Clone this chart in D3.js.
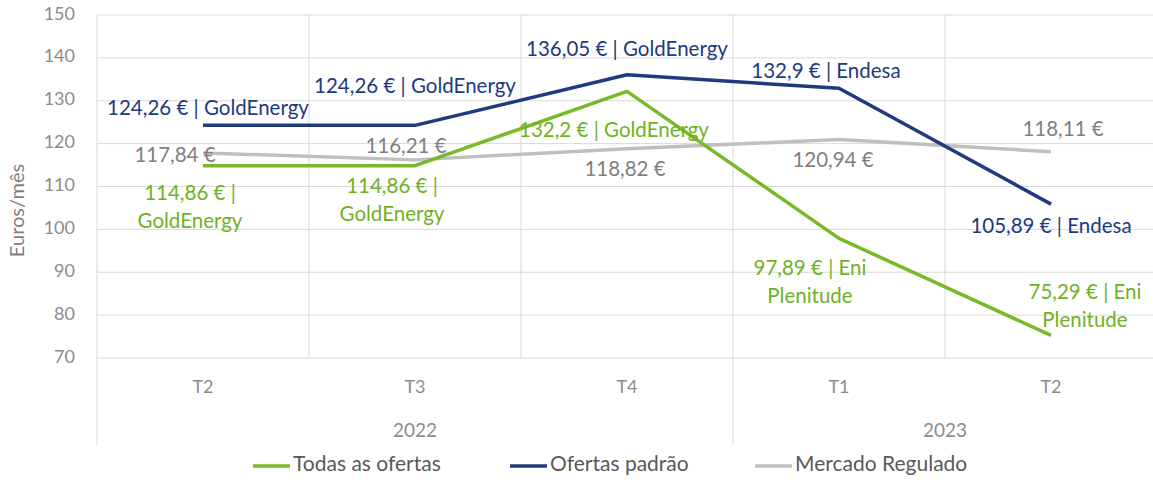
<!DOCTYPE html>
<html>
<head>
<meta charset="utf-8">
<script src="https://cdn.jsdelivr.net/npm/d3@7"></script>
<style>
  body { margin: 0; background: #fff; }
  svg { display: block; font-family: Lato, "Open Sans", sans-serif; }
</style>
</head>
<body>
<div id="chart"></div>
<script>
// Data
const quarters = ["T2", "T3", "T4", "T1", "T2"];
const years = ["2022", "2023"];
const yearSpans = [3, 2];
const todasOfertas = [114.86, 114.86, 132.2, 97.89, 75.29];
const todasSuppliers = ["GoldEnergy", "GoldEnergy", "GoldEnergy", "Eni Plenitude", "Eni Plenitude"];
const ofertasPadrao = [124.26, 124.26, 136.05, 132.9, 105.89];
const padraoSuppliers = ["GoldEnergy", "GoldEnergy", "GoldEnergy", "Endesa", "Endesa"];
const mercadoRegulado = [117.84, 116.21, 118.82, 120.94, 118.11];
const yTicks = [70, 80, 90, 100, 110, 120, 130, 140, 150];
const seriesNames = ["Todas as ofertas", "Ofertas padrão", "Mercado Regulado"];

// Label placement (offsets from the point, px) and words on first line (0 = no wrap)
const labelLayout = {
    todas: [[-13, 29, 3], [-23, 22, 3], [-13, 41, 0], [-29, 32, 4], [34, -41, 4]],
    padrao: [[5, -15, 0], [0, -37, 0], [0, -24, 0], [-13, -15, 0], [0, 24, 0]],
    regulado: [[-28, 4, 0], [-9, -12, 0], [-2, 22, 0], [-6, 22, 0], [12, -21, 0]]
};

const fmt = v => String(v).replace(".", ",") + " €";

const series = [
    { key: "todas", name: seriesNames[0], values: todasOfertas, suppliers: todasSuppliers, color: "#78b928", textColor: "#6fb21f" },
    { key: "padrao", name: seriesNames[1], values: ofertasPadrao, suppliers: padraoSuppliers, color: "#203a80", textColor: "#203a80" },
    { key: "regulado", name: seriesNames[2], values: mercadoRegulado, suppliers: null, color: "#bfbfbf", textColor: "#7f7f7f" }
];

const width = 1153, height = 480;
const plot = { left: 97, right: 1157, top: 15, bottom: 358 };

const svg = d3.select("#chart").append("svg")
    .attr("width", width)
    .attr("height", height);

const x = d3.scaleBand()
    .domain(d3.range(quarters.length))
    .range([plot.left, plot.right])
    .padding(0);

const y = d3.scaleLinear()
    .domain([70, 150])
    .range([plot.bottom, plot.top]);

const gridColor = "#d9d9d9";

// Horizontal gridlines
svg.append("g").selectAll("line")
    .data(yTicks)
    .join("line")
    .attr("x1", plot.left)
    .attr("x2", plot.right)
    .attr("y1", d => y(d))
    .attr("y2", d => y(d))
    .attr("stroke", gridColor)
    .attr("stroke-width", 1);

// Vertical gridlines (category boundaries)
svg.append("g").selectAll("line")
    .data(d3.range(quarters.length))
    .join("line")
    .attr("x1", d => x(d))
    .attr("x2", d => x(d))
    .attr("y1", plot.top)
    .attr("y2", plot.bottom)
    .attr("stroke", gridColor)
    .attr("stroke-width", 1);

// Year separators on multi-level axis
let start = 0;
const yearBounds = [0];
yearSpans.forEach(s => { start += s; yearBounds.push(start); });
svg.append("g").selectAll("line")
    .data(yearBounds)
    .join("line")
    .attr("x1", d => d < quarters.length ? x(d) : plot.right)
    .attr("x2", d => d < quarters.length ? x(d) : plot.right)
    .attr("y1", plot.bottom)
    .attr("y2", 445)
    .attr("stroke", gridColor)
    .attr("stroke-width", 1);

// Y tick labels
svg.append("g").selectAll("text")
    .data(yTicks)
    .join("text")
    .attr("x", 75)
    .attr("y", d => y(d))
    .attr("text-anchor", "end")
    .attr("dominant-baseline", "middle")
    .style("font-size", "18px")
    .style("fill", "#8c8c8c")
    .text(d => d);

// Y axis title
svg.append("text")
    .attr("transform", `translate(19,${(plot.top + plot.bottom) / 2 + 24}) rotate(-90)`)
    .attr("text-anchor", "middle")
    .attr("dominant-baseline", "middle")
    .style("font-size", "20px")
    .style("fill", "#7f7f7f")
    .text("Euros/mês");

// Quarter labels
svg.append("g").selectAll("text")
    .data(quarters)
    .join("text")
    .attr("x", (d, i) => x(i) + x.bandwidth() / 2)
    .attr("y", 388)
    .attr("text-anchor", "middle")
    .attr("dominant-baseline", "middle")
    .style("font-size", "18px")
    .style("fill", "#8c8c8c")
    .text(d => d);

// Year labels
svg.append("g").selectAll("text")
    .data(years)
    .join("text")
    .attr("x", (d, i) => {
        const a = yearBounds[i], b = yearBounds[i + 1];
        return (x(a) + x(b - 1) + x.bandwidth()) / 2;
    })
    .attr("y", 432)
    .attr("text-anchor", "middle")
    .attr("dominant-baseline", "middle")
    .style("font-size", "19px")
    .style("fill", "#8c8c8c")
    .text(d => d);

// Lines
const line = d3.line()
    .x((d, i) => x(i) + x.bandwidth() / 2)
    .y(d => y(d));

const drawOrder = [series[2], series[1], series[0]];
svg.append("g").selectAll("path")
    .data(drawOrder)
    .join("path")
    .attr("d", d => line(d.values))
    .attr("fill", "none")
    .attr("stroke", d => d.color)
    .attr("stroke-width", 3.5)
    .attr("stroke-linejoin", "round");

// Data labels
series.forEach(s => {
    const g = svg.append("g");
    s.values.forEach((v, i) => {
        const [dx, dy, wrap] = labelLayout[s.key][i];
        const label = s.suppliers ? `${fmt(v)} | ${s.suppliers[i]}` : fmt(v);
        let lines = [label];
        if (wrap > 0) {
            const words = label.split(" ");
            lines = [words.slice(0, wrap).join(" "), words.slice(wrap).join(" ")];
        }
        const t = g.append("text")
            .attr("x", x(i) + x.bandwidth() / 2 + dx)
            .attr("y", y(v) + dy)
            .attr("text-anchor", "middle")
            .attr("dominant-baseline", "middle")
            .style("font-size", "20.5px")
            .style("fill", s.textColor);
        lines.forEach((l, k) => {
            t.append("tspan")
                .attr("x", x(i) + x.bandwidth() / 2 + dx)
                .attr("dy", k === 0 ? 0 : 28)
                .text(l);
        });
    });
});

// Legend
const legendX = [253, 510, 755];
const legend = svg.append("g").selectAll("g")
    .data(series)
    .join("g")
    .attr("transform", (d, i) => `translate(${legendX[i]},466)`);
legend.append("line")
    .attr("x1", 0)
    .attr("x2", 37)
    .attr("stroke", d => d.color)
    .attr("stroke-width", 3.5);
legend.append("text")
    .attr("x", 40)
    .attr("dominant-baseline", "middle")
    .style("font-size", "21px")
    .style("fill", "#595959")
    .text(d => d.name);
</script>
</body>
</html>
